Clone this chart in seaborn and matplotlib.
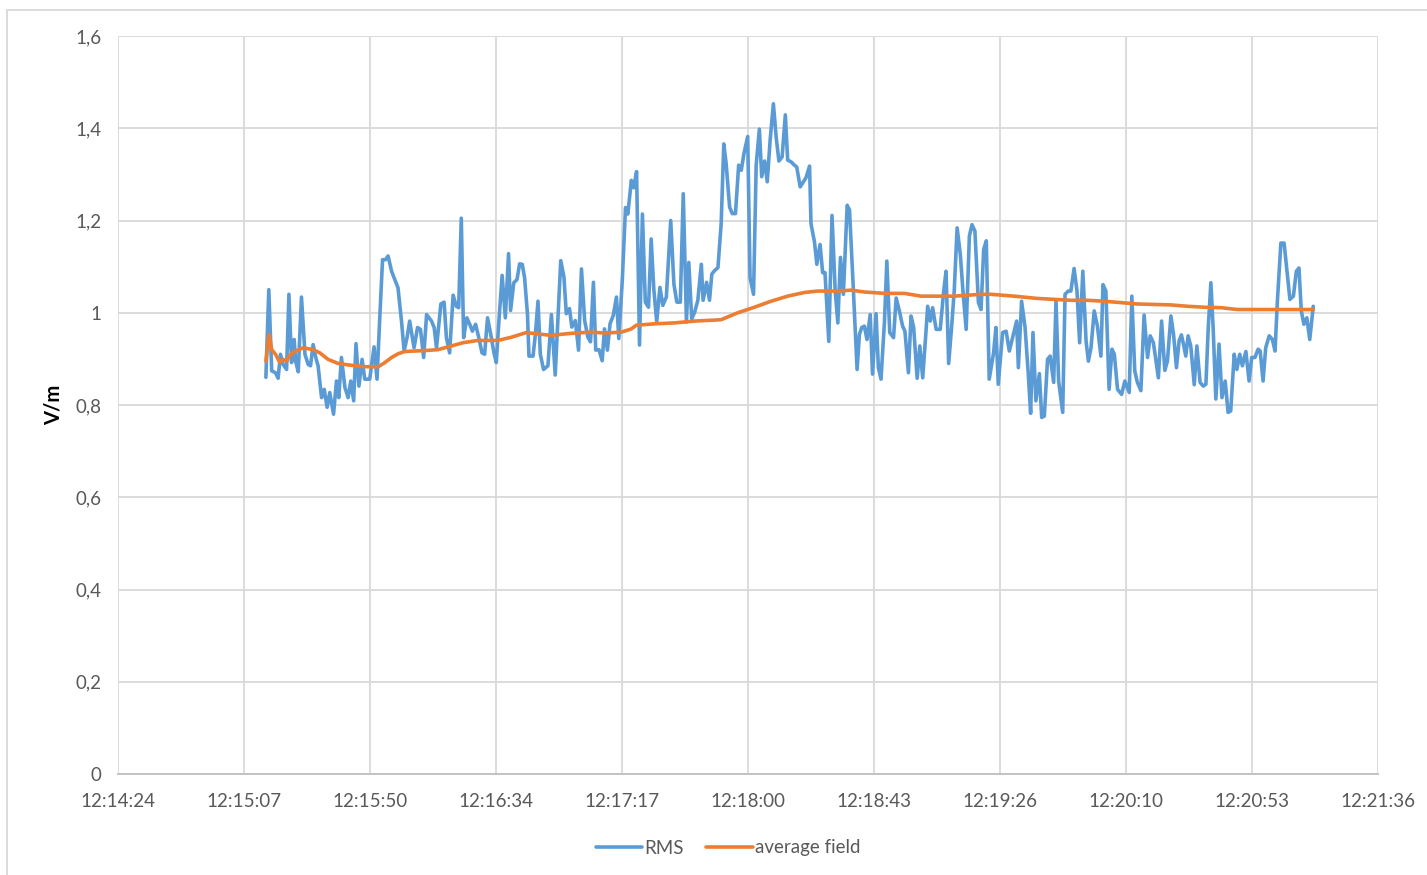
"""
RMS field vs. running average field, Excel-style line chart
"""

import numpy as np
import pandas as pd
import matplotlib.pyplot as plt
import matplotlib.ticker as mticker
from matplotlib.patches import Rectangle
import seaborn as sns

# seconds after 12:14:24
rms_t = [50.7, 51.7, 52.7, 54.0, 54.9, 55.7, 56.6, 57.8, 58.6, 59.5, 60.4, 60.9, 61.8, 62.9, 64.1,
         65.2, 66.0, 66.9, 67.8, 68.6, 69.8, 70.7, 71.7, 72.6, 73.9, 74.9, 75.7, 76.6, 77.8, 78.9,
         79.8, 80.8, 81.6, 82.6, 83.7, 84.6, 86.3, 87.8, 88.8, 89.8, 90.7, 91.7, 92.6, 93.8, 94.9,
         96.0, 97.2, 98.1, 99.1, 100.0,
         101.5, 102.7, 103.7, 104.8, 105.8, 107.5, 108.4, 109.2, 110.7, 111.8, 112.6, 113.7, 114.9,
         116.0, 116.8, 117.7, 118.5, 119.6, 120.6, 121.5, 122.6, 123.7, 124.8, 125.7, 126.7, 127.8,
         128.9, 129.7, 130.6, 131.7, 132.8, 133.9, 134.6, 135.7, 136.8, 137.7, 138.6, 139.4, 140.4,
         140.9, 142.3, 143.1, 144.0, 144.8, 145.9, 147.4, 148.6, 149.9,
         151.8, 152.9, 153.7, 154.8, 155.6, 156.8, 157.9, 158.9, 160.0, 161.1, 162.0, 163.0, 163.8,
         164.9, 166.0, 166.8, 167.8, 168.7, 169.8, 170.9, 171.7, 172.9, 174.0, 174.8, 176.0, 176.8,
         177.8, 178.8, 179.8, 180.8, 181.9, 182.8, 183.7, 184.7, 185.8, 186.8, 188.0, 189.5, 190.6,
         191.6, 192.8, 193.8, 194.9, 195.7, 196.7, 197.7, 198.8, 200.0, 200.6, 201.8, 202.8, 203.6,
         204.5,
         205.7, 206.8, 207.7, 208.5, 209.7, 210.6, 211.7, 212.8, 213.7, 214.6, 215.9, 216.7, 217.9,
         218.8, 219.9, 220.7, 221.7, 222.6, 223.6, 224.7, 225.7, 226.6, 227.7, 228.8, 229.6, 230.8,
         231.9, 232.7, 233.9, 235.0, 235.9, 237.1, 237.6, 238.8, 239.6, 240.7, 241.6, 242.4, 243.7,
         244.8, 245.9, 246.8, 247.7, 248.7, 250.0, 250.8, 251.9, 253.4,
         254.2, 255.0, 255.9, 256.8, 257.9, 258.7, 259.9, 260.7, 261.6, 262.8, 263.6, 264.6, 265.9,
         266.8, 267.9, 269.0, 269.8, 271.0, 271.9, 272.8, 274.0, 274.9, 275.9, 277.0, 277.6, 278.5,
         279.3, 280.5, 281.9, 283.1, 283.9, 284.8, 285.8, 286.7, 287.7, 288.8, 289.7, 290.8, 291.9,
         292.8, 293.8, 295.0, 295.9, 296.8, 297.7, 298.7, 300.2, 301.0, 301.8, 303.3, 304.5,
         305.6, 306.7, 308.1, 308.7, 309.8, 311.0, 312.1, 312.9, 313.7, 314.7, 315.9, 316.7, 317.6,
         318.7, 319.6, 320.8, 321.6, 322.5, 323.9, 324.7, 325.8, 326.7, 327.8, 328.8, 329.7, 330.8,
         331.9, 332.7, 333.6, 334.7, 335.8, 337.0, 337.7, 338.7, 339.8, 340.8, 341.6, 342.7, 344.1,
         345.2, 346.7, 347.6, 348.6, 349.5, 350.7, 351.8, 353.0, 353.9, 355.0,
         356.7, 357.8, 358.9, 359.8, 361.0, 361.9, 362.9, 363.8, 364.6, 365.3, 366.1, 366.9, 367.8,
         369.0, 369.9, 371.0, 372.1, 373.0, 373.8, 374.7, 375.5, 376.4, 377.5, 378.5, 379.6, 380.6,
         381.5, 382.7, 383.6, 384.6, 385.5, 386.7, 387.8, 388.7, 389.8, 390.9, 391.6, 392.6, 393.5,
         394.7, 395.8, 396.7, 397.5, 398.7, 399.8, 400.9, 401.8, 403.0, 404.0, 404.9, 405.7, 406.6,
         407.6, 408.6, 409.8]

rms_v = [0.86, 1.05, 0.874, 0.87, 0.858, 0.91, 0.888, 0.877, 1.04, 0.892, 0.942, 0.895, 0.872, 1.034, 0.91,
         0.888, 0.885, 0.931, 0.903, 0.885, 0.816, 0.834, 0.795, 0.827, 0.78, 0.852, 0.816, 0.903, 0.838, 0.816,
         0.852, 0.809, 0.933, 0.841, 0.899, 0.856, 0.856, 0.926, 0.856, 0.996, 1.115, 1.115, 1.123, 1.09, 1.072,
         1.054, 0.982, 0.917, 0.946, 0.982,
         0.924, 0.968, 0.964, 0.903, 0.996, 0.982, 0.968, 0.924, 1.019, 1.023, 0.946, 0.913, 1.038,
         1.014, 1.011, 1.205, 0.946, 0.989, 0.975, 0.96, 0.975, 0.946, 0.913, 0.91, 0.989, 0.953,
         0.913, 0.892, 0.982, 1.081, 0.989, 1.128, 1.005, 1.065, 1.072, 1.106, 1.105, 1.076, 0.996,
         0.906, 0.906, 0.953, 1.025, 0.91, 0.877, 0.885, 0.996, 0.865,
         1.113, 1.077, 0.998, 1.009, 0.969, 0.983, 0.919, 1.095, 0.983, 0.947, 0.937, 1.066, 0.919,
         0.92, 0.896, 0.965, 0.919, 0.976, 0.994, 1.034, 0.944, 1.07, 1.228, 1.214, 1.287, 1.271,
         1.306, 0.93, 1.214, 1.023, 1.012, 1.16, 1.052, 0.98, 1.055, 1.016, 1.034, 1.2, 1.062,
         1.023, 1.023, 1.258, 0.98, 1.109, 0.987, 1.001, 1.027, 1.105, 1.027, 1.066, 1.027, 1.084,
         1.091,
         1.098, 1.193, 1.366, 1.324, 1.229, 1.215, 1.215, 1.32, 1.309, 1.345, 1.382, 1.076, 1.04,
         1.32, 1.398, 1.295, 1.329, 1.284, 1.375, 1.453, 1.378, 1.329, 1.338, 1.429, 1.331, 1.327,
         1.32, 1.316, 1.273, 1.284, 1.293, 1.318, 1.193, 1.153, 1.105, 1.148, 1.087, 1.087, 0.938,
         1.211, 1.047, 0.978, 1.12, 1.04, 1.233, 1.223, 1.08, 0.877,
         0.953, 0.968, 0.971, 0.942, 0.996, 0.867, 0.998, 0.881, 0.856, 0.982, 1.112, 0.957, 0.946,
         1.032, 1.004, 0.971, 0.96, 0.87, 0.993, 0.968, 0.858, 0.928, 0.859, 0.957, 1.014, 0.982,
         1.011, 0.964, 0.964, 1.047, 1.09, 0.89, 0.968, 1.047, 1.184, 1.126, 1.047, 0.964, 1.166,
         1.191, 1.177, 1.022, 1.007, 1.137, 1.156, 0.856, 0.913, 0.968, 0.845, 0.957, 0.96,
         0.917, 0.946, 0.982, 0.881, 1.025, 0.968, 0.867, 0.782, 0.957, 0.809, 0.868, 0.773, 0.776,
         0.899, 0.906, 0.849, 1.025, 0.852, 0.784, 1.04, 1.047, 1.047, 1.096, 1.047, 0.935, 1.09,
         0.939, 0.895, 0.924, 1.004, 0.971, 0.906, 1.061, 1.047, 0.834, 0.921, 0.91, 0.834, 0.823,
         0.852, 0.827, 1.036, 0.874, 0.849, 0.831, 0.995, 0.903, 0.95, 0.935,
         0.859, 0.982, 0.875, 0.895, 0.993, 0.953, 0.881, 0.939, 0.952, 0.932, 0.906, 0.95, 0.928,
         0.844, 0.928, 0.849, 0.841, 0.845, 0.968, 1.065, 0.964, 0.813, 0.932, 0.816, 0.852, 0.784,
         0.787, 0.91, 0.877, 0.91, 0.885, 0.916, 0.852, 0.903, 0.903, 0.921, 0.917, 0.852, 0.924,
         0.95, 0.942, 0.917, 1.025, 1.151, 1.151, 1.083, 1.029, 1.036, 1.09, 1.097, 1.004, 0.975,
         0.989, 0.942, 1.014]

avg_t = [50.7, 51.8, 52.7, 54.0, 55.5, 56.6, 57.8, 58.9, 60.6, 63.5, 66.9, 69.2, 72.0, 75.5, 80.1,
         84.6, 89.2, 91.5, 93.8, 96.0, 98.3, 101.7, 105.2, 109.7, 114.3, 118.3, 123.4, 130.3, 134.9,
         140.0, 144.0, 148.6, 153.1, 156.6, 162.3, 166.8, 172.6, 176.0, 177.7, 184.0, 190.8, 197.7,
         204.5, 206.8, 212.5, 218.2, 223.9, 229.6, 235.4, 239.9, 246.8, 251.4, 255.9, 262.8, 269.6,
         275.3, 286.7, 295.9, 299.3, 307.3, 315.3, 321.0, 326.7, 332.4, 338.1, 343.8, 349.5, 355.3,
         361.0, 366.7, 372.4, 378.1, 383.8, 389.5, 400.9, 409.8]

avg_v = [0.895, 0.953, 0.92, 0.91, 0.892, 0.899, 0.895, 0.908, 0.916, 0.924, 0.92, 0.913, 0.899, 0.89, 0.886,
         0.883, 0.883, 0.892, 0.903, 0.911, 0.916, 0.917, 0.918, 0.92, 0.928, 0.935, 0.94, 0.94, 0.947,
         0.957, 0.954, 0.951, 0.954, 0.956, 0.958, 0.956, 0.958, 0.965, 0.973, 0.976, 0.978, 0.982,
         0.984, 0.985, 1.0, 1.012, 1.025, 1.036, 1.044, 1.047, 1.047, 1.049, 1.045, 1.042, 1.042,
         1.036, 1.036, 1.04, 1.04, 1.036, 1.031, 1.029, 1.027, 1.027, 1.025, 1.022, 1.019, 1.018,
         1.017, 1.014, 1.012, 1.011, 1.007, 1.007, 1.007, 1.007]

y_ticks = [0, 0.2, 0.4, 0.6, 0.8, 1.0, 1.2, 1.4, 1.6]

# axis starts at 12:14:24, Excel major unit 0.0005 day = 43.2 s
t0 = 12 * 3600 + 14 * 60 + 24
step = 43.2

df = pd.concat([
    pd.DataFrame({'t': np.array(rms_t) + t0, 'v': rms_v, 'series': 'RMS'}),
    pd.DataFrame({'t': np.array(avg_t) + t0, 'v': avg_v, 'series': 'average field'}),
])

sns.set_style('white')
plt.rcParams['font.family'] = ['Lato', 'DejaVu Sans']

fig = plt.figure(figsize=(14.27, 8.75), dpi=100)
ax = fig.add_axes([118 / 1427, 1 - 774 / 875, 1260 / 1427, 738 / 875])

sns.lineplot(data=df, x='t', y='v', hue='series', sort=False, estimator=None,
             palette={'RMS': '#5B9BD5', 'average field': '#ED7D31'},
             linewidth=2.6, ax=ax, legend=False)

ax.set_xlim(t0, t0 + 10 * step)
ax.set_ylim(0, 1.6)
ax.set_xticks([t0 + k * step for k in range(11)])
ax.set_yticks(y_ticks)


def hms(x, pos):
    s = int(round(x))
    return '%d:%02d:%02d' % (s // 3600, (s % 3600) // 60, s % 60)


def comma(y, pos):
    txt = ('%.1f' % y).rstrip('0').rstrip('.')
    return txt.replace('.', ',')


ax.xaxis.set_major_formatter(mticker.FuncFormatter(hms))
ax.yaxis.set_major_formatter(mticker.FuncFormatter(comma))

ax.grid(True, color='#d9d9d9', linewidth=1.3)
ax.set_axisbelow(True)
for side in ['top', 'right', 'left']:
    ax.spines[side].set_visible(False)
ax.spines['bottom'].set_color('#bfbfbf')
ax.spines['bottom'].set_linewidth(1.3)

ax.tick_params(axis='x', length=5, color='#bfbfbf', width=1.3, pad=9,
               labelsize=13.5, labelcolor='#595959')
ax.tick_params(axis='y', length=0, pad=12, labelsize=13.5, labelcolor='#595959')

ax.set_xlabel('')
ax.set_ylabel('V/m', fontsize=14.5, fontweight='bold', color='black', labelpad=8)

handles = [plt.Line2D([], [], color='#5B9BD5', linewidth=2.6),
           plt.Line2D([], [], color='#ED7D31', linewidth=2.6)]
fig.legend(handles, ['RMS', 'average field'], loc='center',
           bbox_to_anchor=(728 / 1427, 1 - 848 / 875), ncol=2, frameon=False,
           fontsize=13.5, handlelength=2.5, handletextpad=0.1, columnspacing=1.2,
           labelcolor='#595959')

# chart area border
fig.patches.append(Rectangle((7 / 1427, -0.01), 1.1, 1 - 10 / 875 + 0.01,
                             transform=fig.transFigure, fill=False,
                             edgecolor='#d9d9d9', linewidth=1.3))

fig.savefig('out.png', dpi=100)
plt.close()
